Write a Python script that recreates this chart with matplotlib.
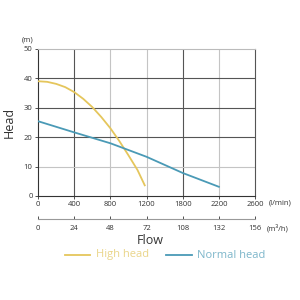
import numpy as np
import matplotlib
matplotlib.use("Agg")
import matplotlib.pyplot as plt

plt.rcParams['font.family'] = ['Open Sans', 'DejaVu Sans']

# tick labels (axis is evenly spaced per tick, not per value)
flow_lmin_ticks = [0, 400, 800, 1200, 1800, 2200, 2600]
flow_m3h_ticks = [0, 24, 48, 72, 108, 132, 156]
head_ticks = [0, 10, 20, 30, 40, 50]

# curves (flow in l/min, head in m)
high_flow = [0, 100, 200, 300, 400, 500, 600, 700, 800, 900, 1000, 1100, 1180]
high_head = [39, 38.8, 38.1, 37.0, 35.3, 33.0, 30.2, 26.8, 23.0, 18.6, 13.8, 8.8, 3.6]
normal_flow = [0, 400, 800, 1200, 1800, 2200]
normal_head = [25.4, 21.6, 17.9, 13.3, 7.8, 3.1]

yellow = "#e5c65c"
blue = "#4a9ab6"


def to_pos(flow):
    return np.interp(flow, flow_lmin_ticks, np.arange(len(flow_lmin_ticks)))


fig = plt.figure(figsize=(3, 3), dpi=100)
ax = fig.add_axes([0.127, 0.347, 0.723, 0.49])

pos = np.arange(len(flow_lmin_ticks))
for i in [1, 4]:
    ax.axvline(i, color="#555555", lw=0.8, zorder=1)
for i in [2, 3, 5]:
    ax.axvline(i, color="#c4c4c4", lw=0.8, zorder=1)
for v in [20, 30, 40]:
    ax.axhline(v, color="#555555", lw=0.8, zorder=1)
ax.axhline(10, color="#c4c4c4", lw=0.8, zorder=1)

ax.plot(to_pos(high_flow), high_head, color=yellow, lw=1.3, zorder=3)
ax.plot(to_pos(normal_flow), normal_head, color=blue, lw=1.3, zorder=3)

ax.set_xlim(0, 6)
ax.set_ylim(0, 50)
ax.set_xticks(pos)
ax.set_xticklabels([str(t) for t in flow_lmin_ticks])
ax.set_yticks(head_ticks)
ax.tick_params(labelsize=5.5, length=2, width=0.6, colors="#333333", pad=2)
ax.spines["top"].set_color("#bbbbbb")
ax.spines["right"].set_color("#555555")
for s in ["left", "bottom"]:
    ax.spines[s].set_color("#333333")
for s in ax.spines.values():
    s.set_linewidth(0.8)

fig.text(0.895, 1 - 203 / 300, "(l/min)", fontsize=5.5, color="#333333",
         ha="left", va="center")
ax.text(-0.02, 1.06, "(m)", transform=ax.transAxes, fontsize=5.5,
        color="#333333", ha="right", va="center")
ax.set_ylabel("Head", fontsize=9, color="#333333", labelpad=6)

# second flow axis in m3/h
ax2 = fig.add_axes([0.127, 0.27, 0.723, 0.001])
ax2.set_xlim(0, 6)
ax2.set_xticks(pos)
ax2.set_xticklabels([str(t) for t in flow_m3h_ticks])
ax2.set_yticks([])
for s in ["top", "left", "right"]:
    ax2.spines[s].set_visible(False)
ax2.spines["bottom"].set_color("#999999")
ax2.spines["bottom"].set_linewidth(0.8)
ax2.tick_params(axis="x", direction="in", labelsize=5.5, length=2, width=0.6,
                colors="#333333", pad=4)
fig.text(0.89, 1 - 228 / 300, "(m\u00b3/h)", fontsize=5.5, color="#333333",
         ha="left", va="center")

fig.text(0.5, 0.2, "Flow", fontsize=9, color="#333333", ha="center", va="center")

# legend
fig.lines.append(plt.Line2D([0.217, 0.3], [0.15, 0.15], color=yellow, lw=1.3,
                            transform=fig.transFigure))
fig.text(0.32, 0.15, "High head", fontsize=8, color="#ead58a", ha="left", va="center")
fig.lines.append(plt.Line2D([0.553, 0.64], [0.15, 0.15], color=blue, lw=1.3,
                            transform=fig.transFigure))
fig.text(0.657, 0.15, "Normal head", fontsize=8, color="#7db6ca", ha="left", va="center")

fig.savefig("out.png", dpi=100)
